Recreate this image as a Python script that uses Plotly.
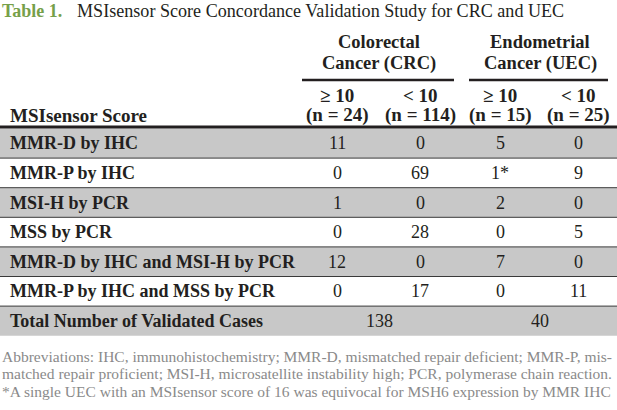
import plotly.graph_objects as go

# ---- data ----
title_label = "Table 1."
title_text = "MSIsensor Score Concordance Validation Study for CRC and UEC"
group_line1 = ["Colorectal", "Endometrial"]
group_line2 = ["Cancer (CRC)", "Cancer (UEC)"]
sub_line1 = ["≥ 10", "< 10", "≥ 10", "< 10"]
sub_line2 = ["(n = 24)", "(n = 114)", "(n = 15)", "(n = 25)"]
stub_header = "MSIsensor Score"
row_labels = [
    "MMR-D by IHC",
    "MMR-P by IHC",
    "MSI-H by PCR",
    "MSS by PCR",
    "MMR-D by IHC and MSI-H by PCR",
    "MMR-P by IHC and MSS by PCR",
]
crc_ge10 = ["11", "0", "1", "0", "12", "0"]
crc_lt10 = ["0", "69", "0", "28", "0", "17"]
uec_ge10 = ["5", "1*", "2", "0", "7", "0"]
uec_lt10 = ["0", "9", "0", "5", "0", "11"]
total_label = "Total Number of Validated Cases"
total_crc = "138"
total_uec = "40"
footnotes = [
    "Abbreviations: IHC, immunohistochemistry; MMR-D, mismatched repair deficient; MMR-P, mis-",
    "matched repair proficient; MSI-H, microsatellite instability high; PCR, polymerase chain reaction.",
    "*A single UEC with an MSIsensor score of 16 was equivocal for MSH6 expression by MMR IHC",
]

# ---- layout constants ----
W, H = 617, 410
FONT = "Liberation Serif"
INK = "#231f20"
GRAY = "#c8c8c8"
GREEN = "#76a04a"
NOTE = "#8a8a8a"
col_x = [337, 420, 500, 578]
group_x = [379, 540]
row_top = 128.5
row_h = 29.6
BODY = 18
HEAD = 19

fig = go.Figure()
shapes = []
ann = []


def txt(x, y, s, size, color=INK, anchor="left"):
    ann.append(dict(x=x, y=y, text=s, font=dict(family=FONT, size=size, color=color),
                    xanchor=anchor, yanchor="middle", showarrow=False))


# title
txt(0, 11, f"<b>{title_label}</b>", 18, GREEN)
txt(75, 11, title_text, 18.1)

# group headers
for gx, a, b in zip(group_x, group_line1, group_line2):
    txt(gx, 42, f"<b>{a}</b>", 18.5, anchor="center")
    txt(gx, 63, f"<b>{b}</b>", 18.5, anchor="center")
shapes.append(dict(type="line", x0=302, x1=454, y0=80, y1=80, line=dict(color=INK, width=2.5)))
shapes.append(dict(type="line", x0=469, x1=608, y0=80, y1=80, line=dict(color=INK, width=2.5)))

for cx, a, b in zip(col_x, sub_line1, sub_line2):
    txt(cx, 95, f"<b>{a}</b>", HEAD, anchor="center")
    txt(cx, 115, f"<b>{b}</b>", HEAD, anchor="center")
txt(8, 115, f"<b>{stub_header}</b>", HEAD)

# body rows
all_labels = row_labels + [total_label]
n = len(all_labels)
for i in range(n):
    y0 = row_top + i * row_h
    y1 = y0 + row_h
    if i % 2 == 0:
        shapes.append(dict(type="rect", x0=0, x1=W, y0=y0, y1=y1, fillcolor=GRAY,
                           line=dict(width=0), layer="below"))
    if i > 0:
        shapes.append(dict(type="line", x0=0, x1=W, y0=y0, y1=y0, line=dict(color="#3a3a3a", width=1)))
    yc = (y0 + y1) / 2
    txt(8, yc, f"<b>{all_labels[i]}</b>", BODY)
    if i < len(row_labels):
        for cx, col in zip(col_x, [crc_ge10, crc_lt10, uec_ge10, uec_lt10]):
            txt(cx, yc, col[i], BODY, anchor="center")
    else:
        for gx, v in zip(group_x, [total_crc, total_uec]):
            txt(gx, yc, v, BODY, anchor="center")

shapes.append(dict(type="line", x0=0, x1=W, y0=127, y1=127, line=dict(color=INK, width=3)))

# footnotes
for k, t in enumerate(footnotes):
    txt(0, 356 + k * 17.5, t, 15.5, NOTE)

fig.update_layout(
    width=W, height=H, margin=dict(l=0, r=0, t=0, b=0),
    paper_bgcolor="white", plot_bgcolor="white",
    xaxis=dict(range=[0, W], visible=False, fixedrange=True),
    yaxis=dict(range=[H, 0], visible=False, fixedrange=True),
    shapes=shapes, annotations=ann, showlegend=False,
)
fig.write_html("out.html", config={"displayModeBar": False},
               post_script="document.body.style.margin='0';document.body.style.overflow='hidden';")
